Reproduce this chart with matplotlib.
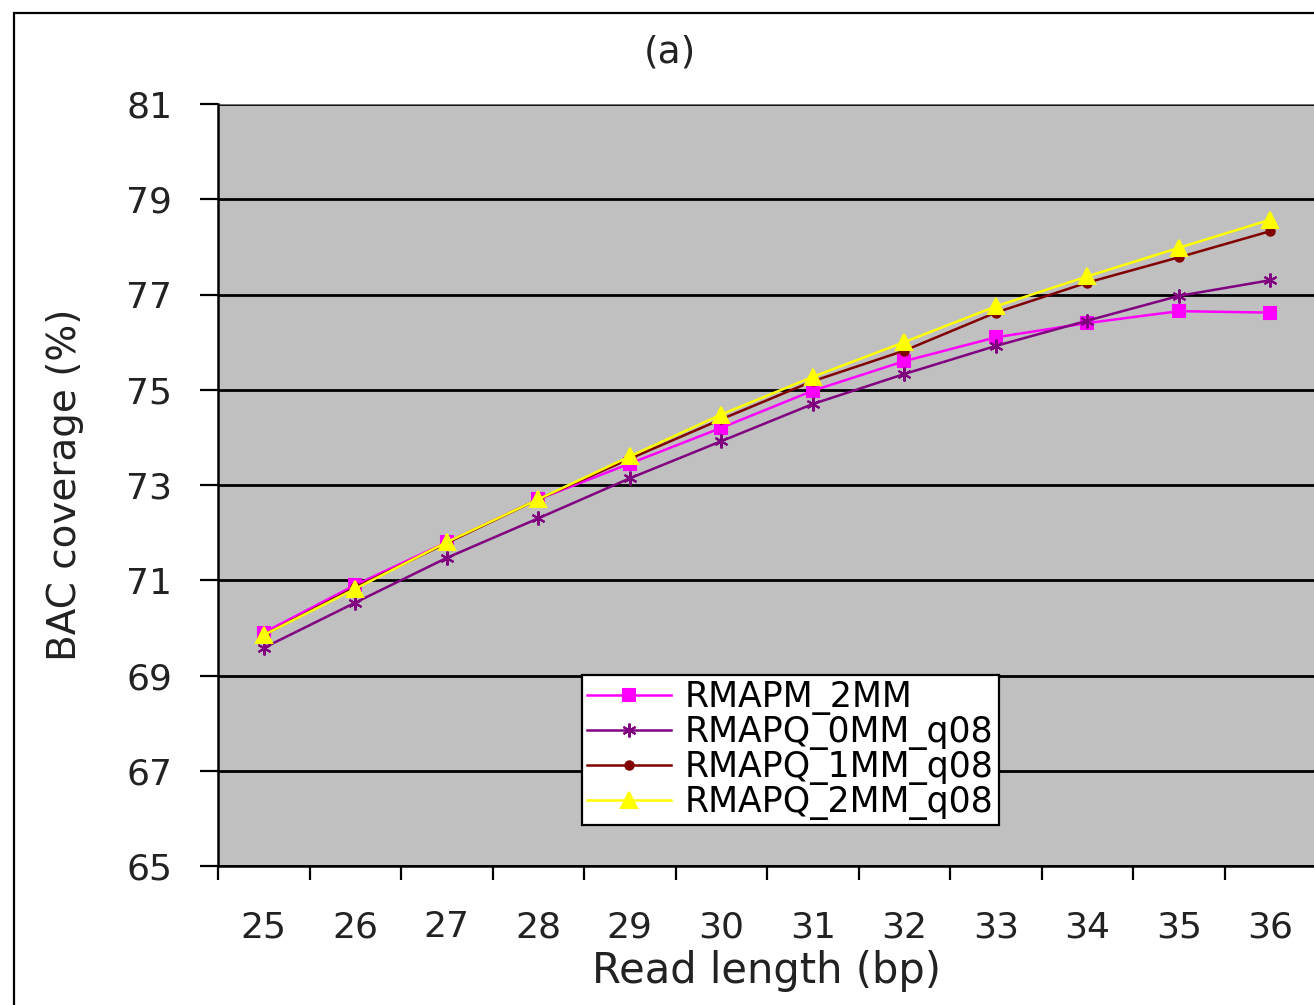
import matplotlib
matplotlib.use("Agg")
import matplotlib.pyplot as plt
from matplotlib.patches import Rectangle

plt.rcParams["font.family"] = ["DejaVu Sans"]

read_length = [25, 26, 27, 28, 29, 30, 31, 32, 33, 34, 35, 36]
rmapm_2mm = [69.9, 70.9, 71.8, 72.7, 73.45, 74.2, 74.98, 75.6, 76.1, 76.4, 76.65, 76.62]
rmapq_0mm = [69.58, 70.53, 71.47, 72.3, 73.14, 73.92, 74.7, 75.33, 75.92, 76.45, 76.97, 77.3]
rmapq_1mm = [69.85, 70.85, 71.78, 72.7, 73.55, 74.38, 75.18, 75.82, 76.62, 77.25, 77.78, 78.33]
rmapq_2mm = [69.85, 70.82, 71.8, 72.7, 73.6, 74.48, 75.27, 76.0, 76.75, 77.38, 77.98, 78.57]
yticks = [65, 67, 69, 71, 73, 75, 77, 79, 81]

W, H = 1314, 1005
fig = plt.figure(figsize=(W / 100, H / 100), dpi=100, facecolor="white")
# outer chart frame
fig.add_artist(Rectangle((14 / W, -0.01), 1.02, 1 - 13 / H + 0.01, transform=fig.transFigure,
                         fill=False, edgecolor="black", linewidth=1.6))

ax = fig.add_axes([218 / W, 1 - 866 / H, (1316 - 218) / W, (866 - 104) / H])
ax.set_facecolor("#c0c0c0")

idx = list(range(len(read_length)))
series = [
    ("RMAPM_2MM", rmapm_2mm, "#ff00ff", "s", 9),
    ("RMAPQ_0MM_q08", rmapq_0mm, "#800080", (6, 2, 0), 10),
    ("RMAPQ_1MM_q08", rmapq_1mm, "#800000", "o", 6),
    ("RMAPQ_2MM_q08", rmapq_2mm, "#ffff00", "^", 12),
]
for name, vals, col, mk, ms in series:
    ax.plot(idx, vals, color=col, lw=1.8, marker=mk, ms=ms, mfc=col, mec=col,
            mew=1.5, label=name, zorder=3)

ax.set_xlim(-0.5, 11.5)
ax.set_ylim(65, 81)
ax.set_yticks(yticks)
ax.set_yticklabels([str(v) for v in yticks], fontsize=26, color="#222222")
ax.yaxis.grid(True, color="black", lw=2)
ax.set_axisbelow(True)

ax.set_xticks([i + 0.5 for i in idx[:-1]] + [-0.5])
ax.set_xticklabels([])
ax.set_xticks(idx, minor=True)
ax.set_xticklabels([str(v) for v in read_length], minor=True, fontsize=26, color="#222222")
ax.tick_params(axis="x", which="major", length=10, width=1.6, direction="out")
ax.tick_params(axis="x", which="minor", length=0, pad=32)
ax.tick_params(axis="y", length=13, width=1.6, direction="out", pad=20)

for s in ["top", "right"]:
    ax.spines[s].set_visible(False)
ax.spines["left"].set_linewidth(1.8)
ax.spines["bottom"].set_linewidth(1.8)
ax.axhline(81, color="#888888", lw=1.2)

ax.set_xlabel("Read length (bp)", fontsize=30, color="#222222", labelpad=4)
ax.set_ylabel("BAC coverage (%)", fontsize=28, color="#222222", labelpad=30)
ax.set_title("(a)", fontsize=27, color="#222222", pad=30, x=(670 - 218) / (1316 - 218))

leg = ax.legend(loc="lower left", bbox_to_anchor=((582 - 218) / 1098, (866 - 825) / 762),
                borderaxespad=0, fontsize=25, frameon=True, fancybox=False,
                edgecolor="black", facecolor="white", framealpha=1,
                handlelength=2.4, handletextpad=0.4, labelspacing=0.0,
                borderpad=0.15)
leg.get_frame().set_linewidth(1.6)

fig.savefig("out.png", dpi=100)
